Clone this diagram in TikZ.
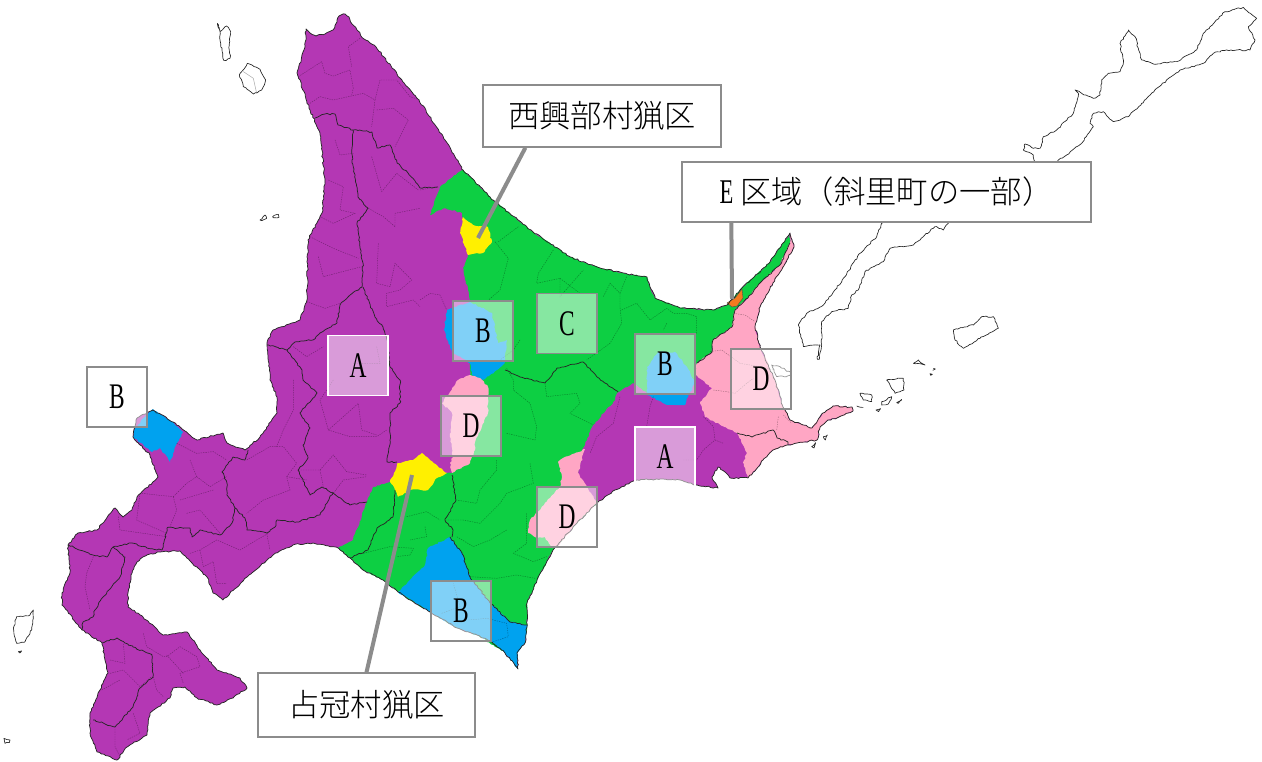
\documentclass[tikz,border=0pt]{standalone}
\usepackage{graphicx}
\usepackage{fontspec}
\setmainfont{Liberation Serif}
\newfontfamily\jp{Noto Sans CJK JP Light}
\usetikzlibrary{decorations.pathmorphing,calc}
\definecolor{cPurple}{HTML}{B437B4}
\definecolor{cGreen}{HTML}{0DCF43}
\definecolor{cBlue}{HTML}{00A2EF}
\definecolor{cPink}{HTML}{FFA6C4}
\definecolor{cYellow}{HTML}{FFF000}
\definecolor{cOrange}{HTML}{F47A20}
\definecolor{cBorder}{HTML}{8C8C8C}
\tikzset{
 jag/.style={decorate,decoration={random steps,segment length=1.8pt,amplitude=.55pt}},
 coastline/.style={jag,draw=black!85,line width=.55pt,line join=round},
 isle/.style={jag,draw=black!85,line width=.5pt,line join=round},
 district/.style={jag,draw=black!85,line width=.55pt,line join=round},
 muni/.style={draw=black,opacity=.35,line width=.35pt,dash pattern=on 1pt off .8pt},
 zm/.style 2 args={shift={(#1*.75pt,#2*-.75pt)},x=.25pt,y=-.25pt},
 letterbox/.style={draw=cBorder,line width=1.1pt,fill=white,fill opacity=.5,text opacity=1,minimum size=45pt,inner sep=0pt,font=\fontsize{27pt}{28pt}\selectfont},
 whitebox/.style={letterbox,draw=white},
 callout/.style={draw=cBorder,line width=1.1pt,fill=white,inner sep=0pt,font=\fontsize{23.5pt}{28pt}\selectfont\jp},
 leader/.style={draw=cBorder,line width=3pt}
}
\newcommand{\cond}[1]{\scalebox{.65}[1]{#1}}
\def\coast{plot coordinates {(306,29) (310,33) (316,36) (325,34) (333,30) (337,22) (339,16) (345,14) (349,17) (352,24) (358,31) (364,39) (376,47) (384,57) (400,78) (419,100) (445,140) (463,170) (493,200) (533,232) (570,257) (600,268) (627,274) (647,277) (650,287) (655,298) (680,308) (713,310) (727,305) (740,290) (753,278) (770,262) (783,243) (790,233) (794,247) (783,267) (773,283) (760,307) (755,327) (760,347) (775,380) (783,407) (790,420) (812,428) (823,413) (833,406) (852,407) (853,411) (837,418) (828,420) (820,427) (817,440) (797,443) (787,445) (773,450) (763,460) (758,467) (748,478) (730,478) (725,472) (718,467) (712,477) (718,488) (700,486) (680,480) (663,479) (637,480) (615,490) (597,503) (575,525) (553,550) (537,580) (527,603) (527,627) (525,643) (517,653) (518,669) (505,653) (492,642) (477,635) (457,628) (430,612) (398,592) (383,580) (363,570) (350,558) (338,548) (313,543) (293,545) (273,555) (247,577) (223,600) (213,593) (207,577) (192,563) (180,551) (160,552) (147,555) (137,562) (131,575) (128,593) (128,607) (143,617) (163,635) (187,632) (200,650) (217,670) (240,678) (247,688) (233,698) (217,705) (197,698) (185,687) (173,688) (170,698) (150,713) (147,735) (127,747) (117,760) (97,752) (90,733) (90,713) (100,690) (108,673) (102,643) (82,630) (62,605) (62,593) (70,573) (68,545) (78,533) (97,530) (115,508) (123,517) (132,510) (137,497) (158,477) (150,455) (133,437) (137,418) (153,410) (173,422) (197,440) (223,433) (227,443) (245,450) (260,437) (277,413) (277,397) (270,380) (267,343) (273,330) (300,320) (307,300) (308,240) (322,213) (325,180) (320,133) (310,110) (297,73) (305,47)}}
\begin{document}
\begin{tikzpicture}[x=.75pt,y=-.75pt]
\useasboundingbox (0,0) rectangle (1262,762);
% mainland base
\pgfmathsetseed{7}
\path[fill=cPurple,jag] \coast -- cycle;
% green
\fill[cGreen,jag] plot coordinates {(430,215) (440,187) (448,180) (463,170) (493,200) (533,232) (570,257) (600,268) (627,274) (647,277) (650,287) (655,298) (680,308) (713,310) (727,305) (740,290) (753,278) (770,262) (783,243) (790,233) (790,243) (780,265) (760,283) (748,298) (735,310) (732,327) (713,340) (712,352) (697,363) (695,383) (647,393) (633,383) (617,393) (615,400) (593,425) (587,440) (583,448) (575,490) (597,503) (575,525) (553,550) (537,580) (527,603) (527,627) (525,643) (505,653) (477,635) (457,628) (430,612) (398,592) (383,580) (363,570) (350,558) (338,548) (353,540) (367,502) (373,487) (390,482) (410,470) (447,473) (452,473) (460,420) (470,375) (470,300) (463,268) (468,255) (462,213) (445,208)} -- cycle;
% blue
\fill[cBlue,jag] plot coordinates {(135,428) (133,437) (152,452) (160,448) (170,462) (177,443) (183,432) (173,422) (153,409) (145,417)} -- cycle;
\fill[cBlue,jag] plot coordinates {(470,302) (447,310) (444,330) (452,352) (470,363) (472,375) (483,380) (497,370) (505,362) (507,340) (498,343) (492,313) (480,307)} -- cycle;
\fill[cBlue,jag] plot coordinates {(647,367) (658,352) (675,352) (687,367) (695,383) (688,397) (685,405) (667,405) (647,395)} -- cycle;
\fill[cBlue,jag] plot coordinates {(527,625) (510,622) (490,603) (470,577) (462,553) (450,537) (428,548) (425,565) (398,592) (430,612) (457,628) (477,635) (492,642) (505,653) (518,669) (517,653) (525,643) (527,627)} -- cycle;
% pink
\fill[cPink,jag] plot coordinates {(790,233) (794,247) (783,267) (773,283) (760,307) (755,327) (760,347) (775,380) (783,407) (790,420) (812,428) (823,413) (833,406) (852,407) (853,411) (837,418) (828,420) (820,427) (817,440) (797,443) (787,445) (773,450) (763,460) (758,467) (748,478) (743,463) (747,453) (737,433) (705,417) (700,402) (712,388) (695,375) (697,363) (712,352) (713,340) (732,327) (735,310) (748,298) (760,283) (780,265) (790,243)} -- cycle;
\fill[cPink,jag] plot coordinates {(470,375) (458,380) (450,392) (442,403) (452,413) (450,437) (453,457) (450,463) (452,473) (470,463) (475,450) (475,442) (488,413) (488,387) (480,378)} -- cycle;
\fill[cPink,jag] plot coordinates {(585,449) (563,458) (558,462) (562,477) (560,487) (550,498) (530,520) (528,533) (537,538) (545,537) (552,548) (557,547) (575,525) (597,503) (578,473)} -- cycle;
% yellow
\fill[cYellow,jag] plot coordinates {(390,482) (398,463) (413,460) (422,453) (430,460) (447,473) (437,478) (428,490) (410,490) (398,497) (395,490)} -- cycle;
\fill[cYellow,jag] plot coordinates {(463,217) (460,233) (468,255) (483,253) (492,242) (488,227) (473,225)} -- cycle;
% orange
\fill[cOrange,draw=black!70,line width=.3pt] plot coordinates {(727,303) (735,298) (742,289) (743,298) (737,306) (732,307)} -- cycle;
% municipal lines, zoom 1
\begin{scope}[zm={0}{0}]
\draw[muni] plot coordinates {(895,230) (965,185) (975,220) (1000,228) (1050,210) (1060,265) (1055,285)};
\draw[muni] plot coordinates {(1080,115) (1045,140) (1055,200)};
\draw[muni] plot coordinates {(930,310) (960,290) (1000,300) (1090,280) (1125,300) (1115,380)};
\draw[muni] plot coordinates {(1125,300) (1140,240) (1190,240) (1230,290) (1260,300)};
\draw[muni] plot coordinates {(1130,330) (1180,325) (1225,360) (1185,440)};
\draw[muni] plot coordinates {(1005,420) (1020,465) (1060,460)};
\draw[muni] plot coordinates {(985,540) (1030,560) (1020,630) (1065,640) (1000,670) (960,650)};
\draw[muni] plot coordinates {(930,710) (1000,745) (1075,775)};
\draw[muni] plot coordinates {(955,770) (970,830) (1085,800)};
\draw[muni] plot coordinates {(920,905) (975,925) (1020,910)};
\draw[muni] plot coordinates {(1115,470) (1145,575) (1190,520) (1255,570)};
\draw[muni] plot coordinates {(1105,625) (1150,650) (1185,680) (1185,640) (1260,625)};
\draw[muni] plot coordinates {(1135,730) (1130,850) (1170,860) (1185,790) (1235,840) (1200,870) (1160,880) (1160,920) (1240,900) (1260,920)};
\draw[muni] plot coordinates {(880,1040) (920,1070) (970,1040)};
\draw[muni] plot coordinates {(1130,1040) (1140,1090) (1060,1090)};
\end{scope}
% zoom 2
\begin{scope}[zm={0}{380}]
\draw[muni] plot coordinates {(880,0) (880,90) (850,150) (830,200)};
\draw[muni] plot coordinates {(1000,0) (960,60) (985,150) (1075,70) (1085,150) (1130,165)};
\draw[muni] plot coordinates {(985,150) (1050,170) (1130,170) (1160,150)};
\draw[muni] plot coordinates {(960,270) (1000,225) (1040,275) (1100,285)};
\draw[muni] plot coordinates {(895,270) (960,270) (970,320)};
\draw[muni] plot coordinates {(1000,340) (1030,300) (1100,290)};
\draw[muni] plot coordinates {(740,240) (810,200) (850,200) (890,250) (860,290) (870,330) (790,360) (740,400)};
\draw[muni] plot coordinates {(860,290) (920,300)};
\draw[muni] plot coordinates {(530,190) (590,220) (640,215) (680,240)};
\draw[muni] plot coordinates {(570,240) (590,290) (560,310) (520,350) (470,345) (425,340)};
\draw[muni] plot coordinates {(590,290) (630,320) (680,290)};
\draw[muni] plot coordinates {(520,350) (530,390) (510,440)};
\draw[muni] plot coordinates {(540,360) (640,330)};
\draw[muni] plot coordinates {(560,400) (600,390) (660,460)};
\draw[muni] plot coordinates {(420,340) (410,420) (500,460)};
\draw[muni] plot coordinates {(355,410) (360,450) (500,470)};
\draw[muni] plot coordinates {(570,520) (600,510) (650,480) (720,510) (770,480) (805,460)};
\draw[muni] plot coordinates {(600,510) (610,560) (640,545) (650,610) (680,610)};
\draw[muni] plot coordinates {(800,460) (810,510)};
\draw[muni] plot coordinates {(280,530) (260,580) (255,620) (270,690)};
\draw[muni] plot coordinates {(330,840) (375,850) (370,790)};
\draw[muni] plot coordinates {(330,880) (370,870) (420,920) (455,890)};
\draw[muni] plot coordinates {(305,930) (360,900)};
\draw[muni] plot coordinates {(345,1040) (345,1100) (360,1130)};
\draw[muni] plot coordinates {(400,1000) (420,1060) (380,1080)};
\draw[muni] plot coordinates {(430,760) (440,800) (490,830) (500,830) (540,800) (590,830) (600,860) (540,880) (550,910)};
\draw[muni] plot coordinates {(460,890) (470,930) (490,950)};
\draw[muni] plot coordinates {(500,825) (550,880)};
\end{scope}
% zoom 3
\begin{scope}[zm={420}{170}]
\draw[muni] plot coordinates {(225,215) (265,265) (240,360) (200,395)};
\draw[muni] plot coordinates {(295,170) (235,215)};
\draw[muni] plot coordinates {(400,240) (355,310) (350,340) (420,325) (420,380) (490,300)};
\draw[muni] plot coordinates {(420,325) (480,370) (530,370)};
\draw[muni] plot coordinates {(620,320) (600,370) (570,340) (550,380)};
\draw[muni] plot coordinates {(600,370) (600,410) (605,460) (570,520) (500,570)};
\draw[muni] plot coordinates {(605,420) (650,400) (690,450) (740,415) (760,430) (800,430) (830,440) (830,490)};
\draw[muni] plot coordinates {(740,460) (730,480)};
\draw[muni] plot coordinates {(260,595) (280,630) (280,660) (330,700) (350,770) (345,810) (260,790)};
\draw[muni] plot coordinates {(375,640) (380,680) (470,670) (480,700) (450,730) (520,765)};
\draw[muni] plot coordinates {(300,510) (280,540) (240,570)};
\draw[muni] plot coordinates {(0,60) (50,50)};
\draw[muni] plot coordinates {(700,680) (690,710) (680,770)};
\draw[muni] plot coordinates {(600,680) (580,760) (530,800) (510,850)};
\draw[muni] plot coordinates {(0,390) (30,370) (60,375) (80,420)};
\end{scope}
% zoom 5
\begin{scope}[zm={680}{220}]
\draw[muni] plot coordinates {(160,280) (195,285) (225,305)};
\draw[muni] plot coordinates {(90,395) (125,390) (180,430) (240,440) (280,450)};
\draw[muni] plot coordinates {(100,510) (140,515) (165,520) (200,490) (220,475)};
\draw[muni] plot coordinates {(295,590) (290,630)};
\draw[muni] plot coordinates {(310,585) (335,610)};
\draw[muni] plot coordinates {(70,590) (100,620) (105,660) (70,690) (50,720) (10,720)};
\draw[muni] plot coordinates {(105,660) (130,670)};
\end{scope}
% zoom 4
\begin{scope}[zm={330}{440}]
\draw[muni] plot coordinates {(500,60) (500,90) (450,150) (440,190) (380,180)};
\draw[muni] plot coordinates {(600,70) (610,130) (530,160) (510,190) (450,250) (400,240) (350,240)};
\draw[muni] plot coordinates {(530,270) (480,300) (430,320) (380,290)};
\draw[muni] plot coordinates {(590,220) (590,310) (550,340) (610,365) (650,350)};
\draw[muni] plot coordinates {(420,410) (500,415) (560,405) (615,415)};
\draw[muni] plot coordinates {(230,230) (290,215) (330,240)};
\draw[muni] plot coordinates {(100,340) (180,320) (250,325) (240,345) (200,350)};
\draw[muni] plot coordinates {(285,260) (290,290) (240,300)};
\draw[muni] plot coordinates {(335,520) (390,500) (370,430)};
\draw[muni] plot coordinates {(415,540) (470,535) (530,550) (535,590) (490,605)};
\end{scope}
% district lines
\draw[district] plot coordinates {(315,118) (325,114) (335,114) (338,125) (353,130) (372,132) (377,148) (390,145) (397,163) (408,173) (420,188) (438,187)};
\draw[district] plot coordinates {(353,130) (352,160) (358,197) (368,208) (357,223) (360,248) (363,263) (362,287) (348,297) (340,305) (337,323) (320,333) (313,340) (295,342) (287,350) (302,370) (303,380) (317,393) (300,413) (310,428) (303,445) (308,458) (298,470) (310,495) (322,487) (333,493) (350,505) (367,502)};
\draw[district] plot coordinates {(287,350) (267,345)};
\draw[district] plot coordinates {(363,287) (375,317) (383,327) (388,343) (390,367) (400,380) (400,403) (390,413) (390,440) (387,462) (397,462)};
\draw[district] plot coordinates {(333,492) (327,503) (320,515) (297,522) (277,520) (275,527) (267,533) (247,530) (245,518) (235,508) (232,523) (220,535) (200,530) (192,537) (190,528) (167,528) (162,550)};
\draw[district] plot coordinates {(235,508) (227,495) (227,483) (222,472) (233,457) (245,460) (248,450)};
\draw[district] plot coordinates {(68,545) (93,555) (107,557) (113,547) (125,557) (120,577) (103,597) (95,610) (93,617) (83,622) (82,630)};
\draw[district] plot coordinates {(113,547) (132,543) (147,548) (162,550)};
\draw[district] plot coordinates {(102,643) (117,638) (133,647) (152,655) (153,677) (140,688) (133,707) (115,727) (93,720)};
\draw[district] plot coordinates {(350,558) (368,550) (377,528) (393,517) (395,490)};
\draw[district] plot coordinates {(452,475) (456,500) (445,520) (453,530) (452,537)};
\draw[district] plot coordinates {(505,370) (520,377) (545,383) (557,368) (583,362) (597,377) (618,392)};
\draw[district] plot coordinates {(527,625) (510,622) (490,603) (470,577) (462,553) (450,537)};
\draw[district] plot coordinates {(737,433) (752,437) (773,430) (777,438) (788,442) (788,445)};
\draw[district] plot coordinates {(790,243) (780,265) (760,283) (748,298) (735,310) (732,327) (713,340) (712,352) (697,363)};
% coast
\pgfmathsetseed{7}
\draw[coastline] \coast -- cycle;
% islands
\begin{scope}[zm={0}{0}]
\draw[isle] plot coordinates {(652,70) (660,95) (680,78) (692,95) (688,130) (690,175) (672,182) (662,130) (660,95)} -- cycle;
\draw[isle] plot coordinates {(742,190) (780,208) (797,240) (785,270) (760,282) (730,260) (718,225)} -- cycle;
\draw[muni,dash pattern=on 3pt off 0pt] plot coordinates {(730,215) (760,235) (770,280)};
\draw[isle] plot coordinates {(780,660) (795,645) (800,655) (785,662)} -- cycle;
\draw[isle] plot coordinates {(818,650) (835,643) (837,652) (820,653)} -- cycle;
\end{scope}
\begin{scope}[zm={0}{380}]
\draw[isle] plot coordinates {(100,690) (90,705) (50,710) (40,745) (50,790) (75,785) (95,750)} -- cycle;
\draw[isle] plot coordinates {(55,815) (65,813) (60,819)} -- cycle;
\draw[isle] plot coordinates {(12,1075) (30,1080) (28,1088) (15,1090)} -- cycle;
\end{scope}
\begin{scope}[zm={780}{0}]
\draw[isle] plot coordinates {(112,1078) (120,1035) (70,1040) (55,975) (80,940) (130,915) (195,830) (240,760) (290,710) (305,670) (400,600) (505,670) (490,690) (465,680) (430,710) (400,735) (330,745) (310,785) (255,815) (235,870) (215,885) (205,925) (155,935) (125,965) (125,1035) (118,1078)} -- cycle;
\draw[isle] plot coordinates {(765,485) (760,465) (730,450) (735,432) (760,445) (780,445) (790,410) (830,390) (880,340) (895,280) (885,270) (905,280) (940,295) (960,285) (965,240) (985,220) (1020,215) (1030,190) (1020,130) (1045,90) (1065,110) (1085,180) (1120,192) (1190,185) (1250,150) (1270,100) (1305,65) (1335,35) (1390,22) (1430,55) (1405,80) (1425,120) (1410,150) (1340,150) (1300,160) (1270,190) (1200,210) (1130,265) (1085,310) (1045,350) (1000,365) (970,335) (940,340) (930,370) (940,380) (905,430) (860,465) (835,480) (800,510)} -- cycle;
\draw[isle] plot coordinates {(520,990) (580,975) (605,950) (640,950) (655,985) (600,1015) (550,1045) (525,1020)} -- cycle;
\end{scope}
\begin{scope}[zm={680}{220}]
\draw[isle] plot coordinates {(540,520) (575,525) (575,545) (550,540)} -- cycle;
\draw[isle] plot coordinates {(620,480) (670,475) (672,510) (645,520)} -- cycle;
\draw[isle] plot coordinates {(605,545) (635,530) (625,552) (605,555)} -- cycle;
\draw[isle] plot coordinates {(650,548) (665,538) (655,550)} -- cycle;
\draw[isle] plot coordinates {(700,430) (715,420) (735,435)} -- cycle;
\draw[isle] plot coordinates {(588,570) (602,566) (596,575)} -- cycle;
\draw[isle] plot coordinates {(430,650) (442,645) (436,660)} -- cycle;
\draw[isle] plot coordinates {(395,680) (407,668) (402,684)} -- cycle;
\draw[isle] plot coordinates {(750,461) (757,463) (752,466)} -- cycle;
\draw[isle] plot coordinates {(760,445) (766,447) (762,449)} -- cycle;
\draw[isle] plot coordinates {(530,558) (550,562)};
\draw[isle] plot coordinates {(275,435) (300,440) (335,460) (320,470) (290,470)} -- cycle;
\end{scope}
% letter boxes
\node[whitebox] (a1) at (358,365.5) {\cond{A}};
\node[whitebox] (a2) at (665,457) {\cond{A}};
\node[letterbox] (b1) at (117,397) {\cond{B}};
\node[letterbox] (b2) at (483,331) {\cond{B}};
\node[letterbox] (b3) at (665,364) {\cond{B}};
\node[letterbox] (b4) at (461,611) {\cond{B}};
\node[letterbox] (c1) at (567,323.5) {\cond{C}};
\node[letterbox] (d1) at (761,379) {\cond{D}};
\node[letterbox] (d2) at (471,426) {\cond{D}};
\node[letterbox] (d3) at (567,517) {\cond{D}};
% callouts
\coordinate (t1) at (478,238);
\coordinate (t2) at (732,299);
\coordinate (t3) at (412,475);
\node[callout,minimum width=178.5pt,minimum height=46.5pt] (lab1) at (602,116) {西興部村猟区};
\node[callout,minimum width=306.75pt,minimum height=45pt] (lab2) at (886.5,192) {{\rmfamily\fontsize{26pt}{28pt}\selectfont\cond{E}} 区域（斜里町の一部）};
\node[callout,minimum width=162.75pt,minimum height=48pt] (lab3) at (366.5,705) {占冠村猟区};
\draw[leader] ($(lab1.south west)!.18!(lab1.south east)$) -- (t1);
\draw[leader] ($(lab2.south west)!.122!(lab2.south east)$) -- (t2);
\draw[leader] (lab3.north) -- (t3);
\end{tikzpicture}
\end{document}
